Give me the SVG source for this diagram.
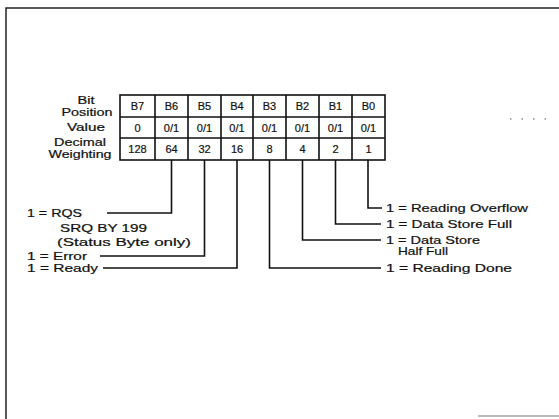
<svg xmlns="http://www.w3.org/2000/svg" width="559" height="419" viewBox="0 0 559 419">
<style>
text{font-family:"Liberation Sans",Arial,sans-serif;fill:#111;stroke:#111;stroke-width:0.2}
.c{font-size:11px;text-anchor:middle}
.l{font-size:10.5px;text-anchor:middle}
.a{font-size:11px}
.grid{fill:none;stroke:#111;stroke-width:1.6}
.con{fill:none;stroke:#111;stroke-width:1.6}
</style>
<rect width="559" height="419" fill="#fff"/>
<g id="frame">
<path d="M6,419 V8 H559" fill="none" stroke="#222" stroke-width="1.5"/>
<path d="M478,416 H559" stroke="#bbb" stroke-width="2"/>
<path d="M510,119 H556" stroke="#555" stroke-width="1.2" stroke-dasharray="1.5 10"/>
</g>
<g id="row-labels">
<text class="l" x="86" y="104" textLength="17" lengthAdjust="spacingAndGlyphs">Bit</text>
<text class="l" x="87" y="115.5" textLength="51" lengthAdjust="spacingAndGlyphs">Position</text>
<text class="l" x="86" y="131" textLength="38" lengthAdjust="spacingAndGlyphs">Value</text>
<text class="l" x="80" y="146" textLength="52" lengthAdjust="spacingAndGlyphs">Decimal</text>
<text class="l" x="80" y="157.5" textLength="63" lengthAdjust="spacingAndGlyphs">Weighting</text>
</g>
<g id="table">
<rect class="grid" x="120" y="95" width="265" height="65"/>
<path class="grid" d="M120,117 H385 M120,138 H385 M155,95 V160 M188,95 V160 M221,95 V160 M253,95 V160 M286,95 V160 M319,95 V160 M352,95 V160"/>
<text class="c" x="137.5" y="110">B7</text>
<text class="c" x="171.5" y="110">B6</text>
<text class="c" x="204.5" y="110">B5</text>
<text class="c" x="237" y="110">B4</text>
<text class="c" x="269.5" y="110">B3</text>
<text class="c" x="302.5" y="110">B2</text>
<text class="c" x="335.5" y="110">B1</text>
<text class="c" x="368.5" y="110">B0</text>
<text class="c" x="137.5" y="131.5">0</text>
<text class="c" x="171.5" y="131.5">0/1</text>
<text class="c" x="204.5" y="131.5">0/1</text>
<text class="c" x="237" y="131.5">0/1</text>
<text class="c" x="269.5" y="131.5">0/1</text>
<text class="c" x="302.5" y="131.5">0/1</text>
<text class="c" x="335.5" y="131.5">0/1</text>
<text class="c" x="368.5" y="131.5">0/1</text>
<text class="c" x="137.5" y="153">128</text>
<text class="c" x="171.5" y="153">64</text>
<text class="c" x="204.5" y="153">32</text>
<text class="c" x="237" y="153">16</text>
<text class="c" x="269.5" y="153">8</text>
<text class="c" x="302.5" y="153">4</text>
<text class="c" x="335.5" y="153">2</text>
<text class="c" x="368.5" y="153">1</text>
</g>
<g id="connectors">
<path class="con" d="M171.5,160 V213 H107"/>
<path class="con" d="M204.5,160 V256 H100"/>
<path class="con" d="M237,160 V268 H103"/>
<path class="con" d="M269.5,160 V268 H381"/>
<path class="con" d="M302.5,160 V240 H381"/>
<path class="con" d="M335.5,160 V224 H381"/>
<path class="con" d="M368,160 V208 H382"/>
</g>
<g id="bit-labels">
<text class="a" x="27" y="217" textLength="55" lengthAdjust="spacingAndGlyphs">1 = RQS</text>
<text class="a" x="60" y="232" textLength="87" lengthAdjust="spacingAndGlyphs">SRQ BY 199</text>
<text class="a" x="57" y="246" textLength="134" lengthAdjust="spacingAndGlyphs">(Status Byte only)</text>
<text class="a" x="27" y="260" textLength="60" lengthAdjust="spacingAndGlyphs">1 = Error</text>
<text class="a" x="27" y="272" textLength="71" lengthAdjust="spacingAndGlyphs">1 = Ready</text>
<text class="a" x="386" y="212" textLength="142" lengthAdjust="spacingAndGlyphs">1 = Reading Overflow</text>
<text class="a" x="386" y="228" textLength="126" lengthAdjust="spacingAndGlyphs">1 = Data Store Full</text>
<text class="a" x="386" y="244" textLength="94" lengthAdjust="spacingAndGlyphs">1 = Data Store</text>
<text class="a" x="398" y="255" textLength="50" lengthAdjust="spacingAndGlyphs">Half Full</text>
<text class="a" x="386" y="272" textLength="126" lengthAdjust="spacingAndGlyphs">1 = Reading Done</text>
</g>
</svg>
